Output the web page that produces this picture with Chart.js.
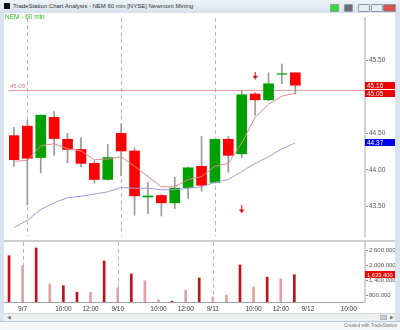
<!DOCTYPE html>
<html>
<head>
<meta charset="utf-8">
<script src="https://cdn.jsdelivr.net/npm/chart.js@4.4.0/dist/chart.umd.min.js"></script>
<style>
  body { margin: 0; width: 400px; height: 330px; overflow: hidden; position: relative;
         background: #d9e3ee; font-family: "Liberation Sans", Arial, sans-serif; }
  #titlebar { position: absolute; left: 0; top: 0; width: 400px; height: 13px;
              background: linear-gradient(#eef3f8, #d7e1ec); }
  #titlebar .icon { position: absolute; left: 4px; top: 3px; width: 6px; height: 6px; background: #111; }
  #titlebar .txt { position: absolute; left: 13px; top: 3px; font-size: 6px; color: #333; white-space: nowrap; }
  #titlebar .btn { position: absolute; top: 4px; height: 6px; border: 1px solid #8a98a8; border-radius: 1px; }
  #priceWrap { position: absolute; left: 4px; top: 13px; width: 391px; height: 228px; background: #fff; }
  #sep { position: absolute; left: 4px; top: 240px; width: 391px; height: 2px; background: #cfcfcf; }
  #volWrap { position: absolute; left: 4px; top: 242px; width: 391px; height: 71px; background: #fff; }
  #symbol { position: absolute; left: 5px; top: 13px; font-size: 6.5px; color: #2cbc2c; }
  #scroll { position: absolute; left: 4px; top: 313px; width: 391px; height: 8px; background: #eeeff1;
            border-top: 1px solid #d4d4d4; box-sizing: border-box; }
  #scroll .l { position: absolute; left: 3px; top: 0px; font-size: 5px; color: #777; }
  #scroll .thumb { position: absolute; left: 376px; top: 1px; width: 7px; height: 5px; background: #c9cdd2; border: 1px solid #b0b4b8; box-sizing: border-box; }
  #scroll .r { position: absolute; left: 386px; top: 0px; font-size: 5px; color: #777; }
  #bottom { position: absolute; left: 0; top: 321px; width: 400px; height: 9px; background: #f5f6f8; border-top: 1px solid #b6c6d8; }
  #credit { position: absolute; right: 3px; top: 323px; font-size: 4.6px; color: #777; }
</style>
</head>
<body>
<div id="titlebar">
  <div class="icon"></div>
  <div class="txt">TradeStation Chart Analysis - NEM 60 min [NYSE] Newmont Mining</div>
  <div class="btn" style="left:330px;width:7px;background:#2fe22f"></div>
  <div class="btn" style="left:344px;width:7px;background:#6d6d6d"></div>
  <div class="btn" style="left:358px;width:10px;background:#e7edf3"></div>
  <div class="btn" style="left:371px;width:10px;background:#e7edf3"></div>
  <div class="btn" style="left:383px;width:11px;background:#d9534f"></div>
</div>
<div id="priceWrap"><canvas id="priceChart" width="391" height="228"></canvas></div>
<div id="symbol">NEM - 60 min</div>
<div id="sep"></div>
<div id="volWrap"><canvas id="volChart" width="391" height="71"></canvas></div>
<div id="scroll"><span class="l">&#9664;</span><div class="thumb"></div><span class="r">&#9654;</span></div>
<div id="bottom"></div>
<div id="credit">Created with TradeStation</div>

<script>
// 60 min bars, index 0 = last bar of 9/6
const opens  = [44.47, 44.60, 44.17, 44.72, 44.42, 44.28, 44.09, 43.87, 44.50, 44.26, 43.63,
                43.65, 43.55, 43.76, 44.05, 43.83, 44.42, 44.22, 45.04, 44.96, 45.31, 45.33];
const highs  = [44.58, 44.68, 44.75, 44.80, 44.50, 44.44, 44.13, 44.35, 44.63, 44.30, 43.83,
                43.66, 43.90, 44.04, 44.46, 44.42, 44.46, 45.09, 45.06, 45.33, 45.45, 45.33];
const lows   = [44.05, 43.52, 43.96, 44.20, 44.10, 44.04, 43.82, 43.86, 43.92, 43.38, 43.40,
                43.37, 43.47, 43.61, 43.71, 43.82, 43.97, 44.17, 44.75, 44.95, 45.18, 45.04];
const closes = [44.14, 44.16, 44.75, 44.43, 44.28, 44.09, 43.87, 44.17, 44.26, 43.645, 43.645,
                43.55, 43.75, 44.03, 43.79, 44.42, 44.20, 45.03, 44.96, 45.18, 45.318, 45.16];
const fastAvg = [44.12, 44.13, 44.33, 44.36, 44.29, 44.26, 44.14, 44.15, 44.18, 44.05, 43.91,
                 43.77, 43.77, 43.87, 43.91, 44.05, 44.09, 44.37, 44.72, 44.90, 45.01, 45.05];
const slowAvg = [43.21, 43.31, 43.46, 43.55, 43.62, 43.64, 43.67, 43.70, 43.76, 43.75, 43.75,
                 43.73, 43.73, 43.75, 43.77, 43.83, 43.87, 43.98, 44.09, 44.18, 44.29, 44.37];
const volumes = [2400000, 2000000, 2710000, 1270000, 1200000, 940000, 940000, 2190000, 1110000,
                 1670000, 1400000, 630000, 580000, 1020000, 1510000, 750000, 830000, 2030000,
                 1150000, 1540000, 1470000, 1639400];
const volDark = [1, 0, 1, 0, 1, 1, 0, 1, 0, 1, 0, 0, 1, 0, 1, 0, 0, 1, 0, 1, 0, 1];

const signalIdx = [17, 18];
const signalPrice = [43.46, 45.29];
const refLevel = 45.09;

const tickPos  = [1, 4, 6, 8, 11, 13, 15, 18, 20, 22, 25];
const tickText = ['9/7', '10:00', '12:00', '9/10', '10:00', '12:00', '9/11', '10:00', '12:00', '9/12', '10:00'];
const sessionStarts = [1, 8, 15];
const priceTicks = [43.5, 44.0, 44.5, 45.5];
const volTicks = [800000, 1400000, 2000000, 2600000];

const xMin = -0.37, xMax = 26.2;
const RED = '#ff0000', GREEN = '#00a000';

Chart.defaults.font.family = '"Liberation Sans", Arial, sans-serif';
Chart.defaults.animation = false;

var idx = opens.map((o, i) => i);

function downArrow() {
  var c = document.createElement('canvas');
  c.width = 5; c.height = 8;
  var g = c.getContext('2d');
  g.fillStyle = '#e00000';
  g.fillRect(2, 0, 1, 5);
  g.beginPath(); g.moveTo(0, 4); g.lineTo(5, 4); g.lineTo(2.5, 8); g.closePath(); g.fill();
  return c;
}

// dashed session separators
const sessionLines = {
  id: 'sessionLines',
  beforeDatasetsDraw(chart) {
    const {ctx, chartArea, scales} = chart;
    ctx.save();
    ctx.strokeStyle = '#b8b8b8';
    ctx.lineWidth = 1;
    ctx.setLineDash([4, 3]);
    sessionStarts.forEach(i => {
      const x = Math.round(scales.x.getPixelForValue(i)) + 0.5;
      ctx.beginPath(); ctx.moveTo(x, chartArea.top); ctx.lineTo(x, chartArea.bottom); ctx.stroke();
    });
    ctx.restore();
  }
};

// horizontal reference level with its label
const refLine = {
  id: 'refLine',
  beforeDatasetsDraw(chart) {
    const {ctx, chartArea, scales} = chart;
    const y = Math.round(scales.y.getPixelForValue(refLevel)) + 0.5;
    ctx.save();
    ctx.strokeStyle = '#e59a9a';
    ctx.lineWidth = 1;
    ctx.beginPath(); ctx.moveTo(chartArea.left, y); ctx.lineTo(chartArea.right, y); ctx.stroke();
    ctx.fillStyle = '#e07070';
    ctx.font = '6px "Liberation Sans", Arial, sans-serif';
    ctx.textBaseline = 'bottom';
    ctx.fillText(refLevel.toFixed(2), chartArea.left + 1, y - 1);
    ctx.restore();
  }
};

// coloured value boxes on the right axis
function drawBoxes(chart, items, size) {
  const {ctx, chartArea, scales} = chart;
  const x0 = chartArea.right, w = chart.width - chartArea.right, h = 7;
  let lastBottom = -99;
  ctx.save();
  ctx.font = size + 'px "Liberation Sans", Arial, sans-serif';
  ctx.textBaseline = 'middle';
  items.forEach(it => {
    let top = Math.round(scales.y.getPixelForValue(it.value) - h / 2);
    if (top < lastBottom + 1) top = lastBottom + 1;
    ctx.fillStyle = it.color;
    ctx.fillRect(x0, top, w, h);
    ctx.fillStyle = '#fff';
    ctx.fillText(it.text, x0 + 2, top + h / 2 + 0.5);
    lastBottom = top + h;
  });
  ctx.restore();
}

const priceBoxes = {
  id: 'priceBoxes',
  afterDraw(chart) {
    const n = closes.length - 1;
    drawBoxes(chart, [
      {value: closes[n], text: closes[n].toFixed(2), color: '#ee0000'},
      {value: fastAvg[n], text: fastAvg[n].toFixed(2), color: '#ee0000'},
      {value: slowAvg[n], text: slowAvg[n].toFixed(2), color: '#0000ee'}
    ], 6.5);
  }
};

const volBoxes = {
  id: 'volBoxes',
  afterDraw(chart) {
    const n = volumes.length - 1;
    drawBoxes(chart, [{value: volumes[n], text: volumes[n].toLocaleString('en-US'), color: '#ee0000'}], 5.8);
  }
};

new Chart('priceChart', {
  type: 'bar',
  data: {
    datasets: [{
      type: 'scatter',
      data: signalIdx.map((v, k) => ({x: v, y: signalPrice[k]})),
      pointStyle: downArrow(),
      pointRadius: 4,
      order: 0
    }, {
      type: 'line',
      data: idx.map(i => ({x: i, y: fastAvg[i]})),
      borderColor: '#dc8c8c',
      borderWidth: 1,
      pointRadius: 0,
      order: 1
    }, {
      type: 'line',
      data: idx.map(i => ({x: i, y: slowAvg[i]})),
      borderColor: '#9d9dd9',
      borderWidth: 1,
      pointRadius: 0,
      order: 1
    }, {
      data: idx.map(i => ({x: i, y: [opens[i], closes[i]]})),
      backgroundColor: idx.map(i => closes[i] >= opens[i] ? GREEN : RED),
      barThickness: 10,
      grouped: false,
      order: 2
    }, {
      data: idx.map(i => ({x: i, y: [lows[i], highs[i]]})),
      backgroundColor: '#9a9a9a',
      barThickness: 1,
      grouped: false,
      order: 3
    }]
  },
  options: {
    responsive: false,
    layout: {padding: 0},
    plugins: {legend: {display: false}, tooltip: {enabled: false}},
    scales: {
      x: {type: 'linear', min: xMin, max: xMax, offset: false, display: false},
      y: {
        position: 'right',
        min: 43.096, max: 46.08,
        afterBuildTicks(s) { s.ticks = priceTicks.map(v => ({value: v})); },
        afterFit(s) { s.width = 30; s.paddingTop = 0; s.paddingBottom = 0; },
        ticks: {font: {size: 6.5}, color: '#555', padding: 1, callback: v => v.toFixed(2)},
        grid: {drawOnChartArea: false, tickLength: 3, color: '#888'},
        border: {color: '#d2d2d2', width: 2}
      }
    }
  },
  plugins: [sessionLines, refLine, priceBoxes]
});

new Chart('volChart', {
  type: 'bar',
  data: {
    datasets: [{
      data: idx.map(i => ({x: i, y: volumes[i]})),
      backgroundColor: idx.map(i => volDark[i] ? '#c4121c' : '#e2a2a4'),
      barThickness: 2
    }]
  },
  options: {
    responsive: false,
    layout: {padding: 0},
    plugins: {legend: {display: false}, tooltip: {enabled: false}},
    scales: {
      x: {
        type: 'linear', min: xMin, max: xMax, offset: false,
        afterBuildTicks(s) { s.ticks = tickPos.map(v => ({value: v})); },
        afterFit(s) { s.height = 11; s.paddingLeft = 0; s.paddingRight = 0; },
        ticks: {font: {size: 6.5}, color: '#333', padding: 3, autoSkip: false, maxRotation: 0,
                callback: v => tickText[tickPos.indexOf(v)]},
        grid: {display: false, drawTicks: false},
        border: {color: '#a0a0a0', width: 1}
      },
      y: {
        position: 'right',
        min: 548000, max: 2948000,
        afterBuildTicks(s) { s.ticks = volTicks.map(v => ({value: v})); },
        afterFit(s) { s.width = 30; s.paddingTop = 0; s.paddingBottom = 0; },
        ticks: {font: {size: 6}, color: '#555', padding: 1, callback: v => v.toLocaleString('en-US')},
        grid: {drawOnChartArea: false, tickLength: 3, color: '#888'},
        border: {color: '#d2d2d2', width: 2}
      }
    }
  },
  plugins: [sessionLines, volBoxes]
});
</script>
</body>
</html>
